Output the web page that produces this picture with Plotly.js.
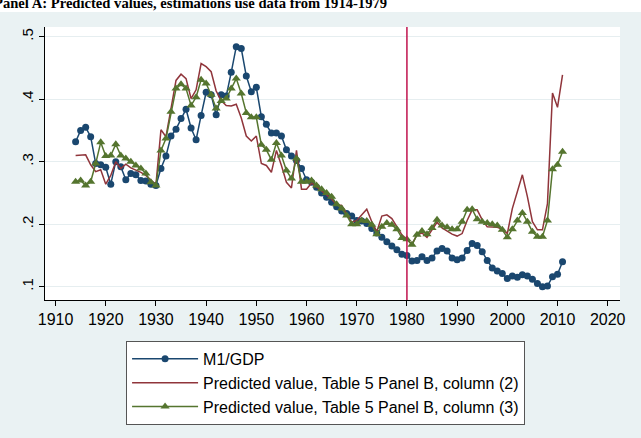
<!DOCTYPE html>
<html><head><meta charset="utf-8">
<script src="https://cdn.plot.ly/plotly-3.0.1.min.js"></script>
<style>html,body{margin:0;padding:0;background:#fff}#chart{width:641px;height:438px}</style>
</head><body><div id="chart"></div>
<script>
const years = [1914,1915,1916,1917,1918,1919,1920,1921,1922,1923,1924,1925,1926,1927,1928,1929,
1930,1931,1932,1933,1934,1935,1936,1937,1938,1939,1940,1941,1942,1943,1944,1945,1946,1947,1948,1949,
1950,1951,1952,1953,1954,1955,1956,1957,1958,1959,1960,1961,1962,1963,1964,1965,1966,1967,1968,1969,
1970,1971,1972,1973,1974,1975,1976,1977,1978,1979,1980,1981,1982,1983,1984,1985,1986,1987,1988,1989,
1990,1991,1992,1993,1994,1995,1996,1997,1998,1999,2000,2001,2002,2003,2004,2005,2006,2007,2008,2009,
2010,2011];

const m1gdp = [0.332,0.350,0.355,0.340,0.297,0.295,0.291,0.264,0.300,0.292,0.271,0.281,0.279,0.270,0.269,0.264,
0.262,0.289,0.309,0.341,0.352,0.369,0.384,0.354,0.335,0.374,0.411,0.407,0.375,0.407,0.405,0.443,0.484,0.481,0.437,0.412,
0.419,0.372,0.360,0.346,0.346,0.341,0.319,0.309,0.302,0.289,0.271,0.267,0.259,0.250,0.243,0.235,0.228,0.221,0.217,0.213,
0.206,0.205,0.201,0.193,0.186,0.179,0.172,0.165,0.159,0.152,0.150,0.141,0.142,0.148,0.142,0.146,0.157,0.161,0.157,0.146,
0.143,0.146,0.158,0.169,0.166,0.156,0.142,0.130,0.125,0.121,0.113,0.117,0.115,0.119,0.117,0.112,0.105,0.100,0.101,0.116,
0.120,0.140];

const predCol2 = [0.310,0.311,0.311,0.295,0.284,0.287,0.264,0.278,0.300,0.289,0.296,0.290,0.287,0.283,0.278,0.271,
0.263,0.351,0.340,0.385,0.430,0.440,0.433,0.401,0.415,0.457,0.452,0.444,0.413,0.398,0.390,0.389,0.392,0.370,0.341,0.333,
0.341,0.297,0.294,0.283,0.318,0.294,0.267,0.258,0.318,0.256,0.256,0.266,0.260,0.254,0.247,0.240,0.231,0.230,0.216,0.203,
0.206,0.215,0.224,0.204,0.188,0.213,0.215,0.209,0.196,0.183,0.176,0.168,0.183,0.186,0.179,0.191,0.203,0.194,0.189,0.184,
0.181,0.185,0.206,0.223,0.223,0.207,0.196,0.195,0.195,0.192,0.185,0.225,0.252,0.279,0.244,0.204,0.191,0.191,0.233,0.410,
0.387,0.439];

const predCol3 = [0.268,0.270,0.262,0.268,0.297,0.331,0.309,0.310,0.328,0.310,0.305,0.300,0.294,0.289,0.281,0.267,
0.262,0.318,0.337,0.380,0.417,0.424,0.417,0.390,0.403,0.431,0.425,0.407,0.385,0.397,0.401,0.417,0.433,0.409,0.378,0.371,
0.371,0.327,0.319,0.303,0.330,0.310,0.286,0.273,0.305,0.268,0.268,0.270,0.262,0.256,0.250,0.244,0.232,0.225,0.214,0.200,
0.200,0.206,0.205,0.199,0.184,0.196,0.202,0.199,0.192,0.178,0.176,0.167,0.183,0.189,0.184,0.194,0.207,0.198,0.195,0.192,
0.192,0.204,0.223,0.224,0.208,0.204,0.202,0.200,0.198,0.191,0.179,0.192,0.206,0.218,0.204,0.188,0.180,0.180,0.206,0.288,
0.295,0.316];

const seriesNames = ["M1/GDP",
  "Predicted value, Table 5 Panel B, column (2)",
  "Predicted value, Table 5 Panel B, column (3)"];
const xTickVals = [1910,1920,1930,1940,1950,1960,1970,1980,1990,2000,2010,2020];
const yTickVals = [0.1,0.2,0.3,0.4,0.5];
const yTickText = [".1",".2",".3",".4",".5"];
const cutoffYear = 1980;
const titleText = "Panel A: Predicted values, estimations use data from 1914-1979";

const font = "Liberation Sans, Arial, sans-serif";
const traces = [
  {x: years, y: m1gdp, name: seriesNames[0], type: "scatter", mode: "lines+markers",
   line: {color: "#1a476f", width: 1.5}, marker: {symbol: "circle", size: 7, color: "#1a476f"}},
  {x: years, y: predCol2, name: seriesNames[1], type: "scatter", mode: "lines",
   line: {color: "#90353b", width: 1.5}},
  {x: years, y: predCol3, name: seriesNames[2], type: "scatter", mode: "lines+markers",
   line: {color: "#55752f", width: 1.5}, marker: {symbol: "triangle-up", size: 8, color: "#55752f"}}
];

const layout = {
  width: 641, height: 438,
  margin: {l: 45, r: 21, t: 27, b: 138},
  paper_bgcolor: "#eaf2f3",
  plot_bgcolor: "#ffffff",
  showlegend: true,
  font: {family: font, color: "#000", size: 16},
  xaxis: {
    range: [1907.9, 2022.45], tickmode: "array", tickvals: xTickVals,
    ticks: "outside", ticklen: 5, tickcolor: "#000", tickwidth: 1,
    showline: true, linecolor: "#000", linewidth: 1,
    showgrid: false, zeroline: false,
    tickfont: {family: font, size: 16, color: "#000"}
  },
  yaxis: {
    range: [0.0787, 0.5155], tickmode: "array", tickvals: yTickVals, ticktext: yTickText,
    tickangle: -90,
    ticks: "outside", ticklen: 5, tickcolor: "#000", tickwidth: 1,
    showline: true, linecolor: "#000", linewidth: 1,
    showgrid: true, gridcolor: "#e6eef0", gridwidth: 1, zeroline: false,
    tickfont: {family: font, size: 15, color: "#000"}
  },
  legend: {
    x: 0.141, y: -0.150, xanchor: "left", yanchor: "top",
    bgcolor: "#ffffff", bordercolor: "#555555", borderwidth: 1,
    font: {family: font, size: 16, color: "#000"},
    itemwidth: 66, tracegroupgap: 0
  },
  shapes: [
    {type: "rect", xref: "paper", yref: "paper", x0: -0.2, x1: 1.2, y0: 1.0549, y1: 1.2,
     fillcolor: "#ffffff", line: {width: 0}, layer: "below"},
    {type: "line", xref: "x", yref: "paper", x0: cutoffYear, x1: cutoffYear, y0: 0, y1: 1,
     line: {color: "#c0134d", width: 1.5}}
  ],
  annotations: [
    {text: "<b>" + titleText + "</b>", xref: "paper", yref: "paper",
     x: -0.092, y: 1.052, xanchor: "left", yanchor: "bottom", showarrow: false,
     font: {family: "Liberation Serif, Times New Roman, serif", size: 14.6, color: "#000"}}
  ]
};

Plotly.newPlot("chart", traces, layout, {staticPlot: true, displayModeBar: false});
</script>
</body></html>
